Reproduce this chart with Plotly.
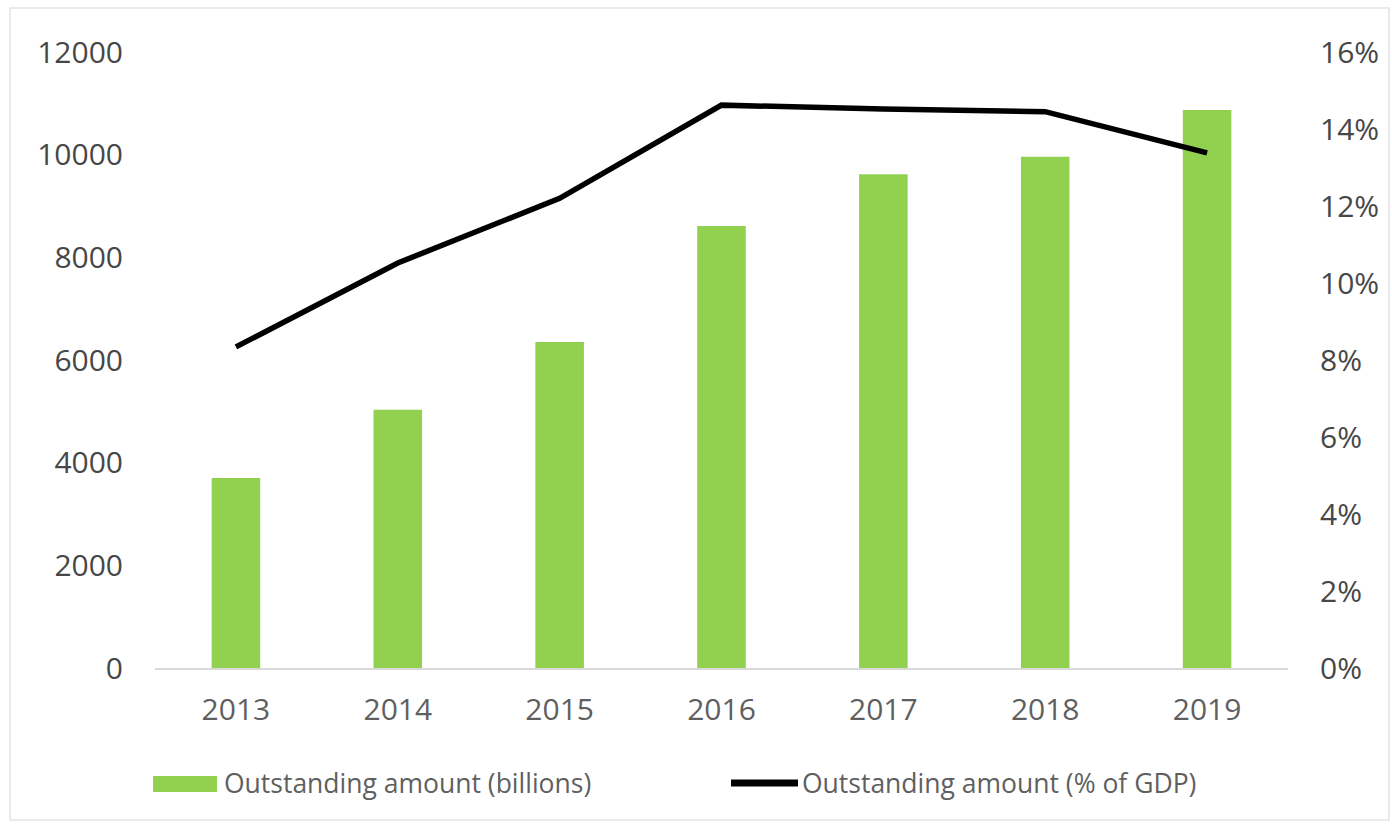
import plotly.graph_objects as go

years = ["2013", "2014", "2015", "2016", "2017", "2018", "2019"]
amount_billions = [3700, 5030, 6350, 8610, 9620, 9960, 10870]
pct_of_gdp = [8.34, 10.52, 12.2, 14.62, 14.52, 14.45, 13.38]

left_ticks = [0, 2000, 4000, 6000, 8000, 10000, 12000]
left_labels = [str(v) for v in left_ticks]
right_ticks = [0, 2, 4, 6, 8, 10, 12, 14, 16]
right_labels = [f"{v}%" for v in right_ticks]

bar_name = "Outstanding amount (billions)"
line_name = "Outstanding amount (% of GDP)"
bar_color = "#92D050"

font_family = "'Open Sans', Lato, sans-serif"
tick_grey = "#474747"
text_grey = "#5f5f5f"

# plot area geometry (pixels) used for placing the hand-drawn legend
L, R, T, B = 155, 104, 52, 159
W, H = 1392, 827
pw, ph = W - L - R, H - T - B


def px(x):
    return (x - L) / pw


def py(y):
    return (H - B - y) / ph


fig = go.Figure()
fig.add_trace(go.Bar(
    x=years, y=amount_billions, name=bar_name,
    marker=dict(color=bar_color, line=dict(width=0)),
    yaxis="y", showlegend=False,
))
fig.add_trace(go.Scatter(
    x=years, y=pct_of_gdp, name=line_name,
    mode="lines", line=dict(color="#000000", width=5.5),
    yaxis="y2", showlegend=False,
))

shapes = [
    # chart frame
    dict(type="rect", xref="paper", yref="paper",
         x0=px(10), x1=px(1389), y0=py(820), y1=py(8),
         line=dict(color="#e3e3e3", width=1.5), fillcolor="rgba(0,0,0,0)"),
    # legend swatches
    dict(type="rect", xref="paper", yref="paper",
         x0=px(153), x1=px(217), y0=py(792), y1=py(776),
         line=dict(width=0), fillcolor=bar_color),
    dict(type="line", xref="paper", yref="paper",
         x0=px(731), x1=px(798), y0=py(783), y1=py(783),
         line=dict(color="#000000", width=7)),
]

legend_font = dict(size=26.5, color=text_grey, family=font_family)
annotations = [
    dict(text=bar_name, xref="paper", yref="paper", x=px(222), y=py(783),
         xanchor="left", yanchor="middle", showarrow=False, font=legend_font),
    dict(text=line_name, xref="paper", yref="paper", x=px(800), y=py(783),
         xanchor="left", yanchor="middle", showarrow=False, font=legend_font),
]

tick_font = dict(size=30, color=tick_grey)

fig.update_layout(
    width=W, height=H,
    margin=dict(l=L, r=R, t=T, b=B),
    paper_bgcolor="white", plot_bgcolor="white",
    bargap=0.7,
    font=dict(family=font_family, size=22, color=tick_grey),
    xaxis=dict(
        showgrid=False, showline=True, linecolor="#d9d9d9", linewidth=2,
        ticks="", tickfont=dict(size=30, color=text_grey),
        ticklabelstandoff=14,
    ),
    yaxis=dict(
        range=[0, 12000], tickvals=left_ticks, ticktext=left_labels,
        showgrid=False, zeroline=False, showline=False, ticks="",
        tickfont=tick_font, ticklabelstandoff=31,
    ),
    yaxis2=dict(
        range=[0, 16], tickvals=right_ticks, ticktext=right_labels,
        overlaying="y", side="right", showgrid=False, zeroline=False,
        showline=False, ticks="", tickfont=tick_font,
        ticklabelstandoff=31,
    ),
    showlegend=False,
    shapes=shapes,
    annotations=annotations,
)

fig.write_html("out.html")
